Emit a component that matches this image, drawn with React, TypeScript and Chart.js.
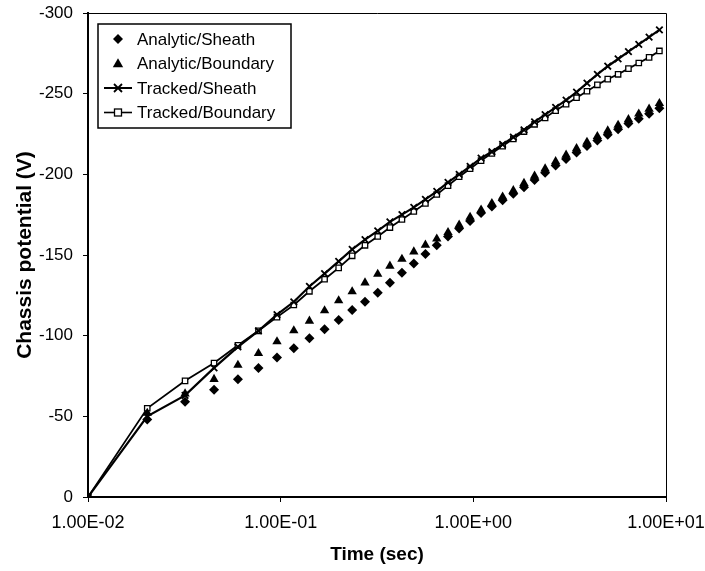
import React, { useEffect, useRef } from "react";
import { Chart, registerables } from "chart.js";

Chart.register(...registerables);

// Time points (sec)
const times = [
  0.01, 0.0203, 0.0319, 0.0451, 0.06, 0.0767, 0.0957, 0.117, 0.141, 0.169,
  0.2, 0.235, 0.274, 0.319, 0.369, 0.426, 0.491, 0.564, 0.646, 0.739,
  0.844, 0.962, 1.097, 1.248, 1.419, 1.613, 1.832, 2.079, 2.358, 2.674,
  3.03, 3.433, 3.889, 4.403, 4.984, 5.641, 6.384, 7.223, 8.171, 9.242,
];

const analyticSheath = [
  0, -48, -59, -66.5, -73, -80, -86.5, -92.2, -98.4, -104,
  -109.7, -115.9, -121.1, -126.6, -132.8, -139, -144.8, -150.6, -156, -161.5,
  -166.5, -171, -176, -180, -184, -188, -192, -196.5, -201, -205.5,
  -209.5, -213.5, -217.5, -221, -224.5, -228, -231.5, -234.5, -237.5, -241,
];

const analyticBoundary = [
  0, -52, -64, -73, -81.8, -89, -96.3, -103.1, -109.1, -115.5,
  -121.7, -127.3, -132.8, -138.2, -143.2, -147.5, -152, -156.2, -160, -164,
  -168.6, -173.5, -178, -182, -186, -190, -194.5, -199, -203.5, -208,
  -212, -216, -220, -223.5, -227, -230.5, -234, -237.5, -240.5, -244,
];

const trackedSheath = [
  0, -50, -63, -80, -93, -103, -113, -121, -130.5, -138.5,
  -146, -153.5, -159.5, -165, -170.5, -175, -179.5, -184.5, -189.5, -195,
  -200, -205, -210, -214, -218.5, -223, -227.5, -232.5, -237, -241.5,
  -246, -251, -256.5, -262, -267, -271.5, -276, -280.5, -285, -289.5,
];

const trackedBoundary = [
  0, -55, -72, -83, -94, -103, -111.5, -119, -127.5, -135,
  -142, -149.5, -156, -161.5, -167, -172, -177, -182, -187.5, -193,
  -198.5, -203.5, -208.5, -213, -217.5, -222, -226.5, -231, -235, -239.5,
  -243.5, -247.5, -251.5, -255.5, -259, -262, -265.5, -269, -272.5, -276.5,
];

const seriesLabels = [
  "Analytic/Sheath",
  "Analytic/Boundary",
  "Tracked/Sheath",
  "Tracked/Boundary",
];

const xTickValues = [0.01, 0.1, 1, 10];
const yMin = -300;
const yMax = 0;
const yStep = 50;

const FONT = "'Liberation Sans', Arial, Helvetica, sans-serif";

function fmtExp(v: number): string {
  const s = v.toExponential(2); // e.g. 1.00e-2
  const [m, e] = s.split("e");
  const n = parseInt(e, 10);
  const sign = n < 0 ? "-" : "+";
  const a = Math.abs(n);
  return m + "E" + sign + (a < 10 ? "0" : "") + a;
}

function pts(ys: number[]) {
  return times.map((t, i) => ({ x: t, y: ys[i] }));
}

function zeroPad(scale: any) {
  scale.paddingLeft = 0;
  scale.paddingRight = 0;
  scale.paddingTop = 0;
  scale.paddingBottom = 0;
}

function drawMarker(ctx: CanvasRenderingContext2D, kind: string, x: number, y: number) {
  ctx.save();
  ctx.strokeStyle = "#000";
  ctx.fillStyle = "#000";
  if (kind === "diamond") {
    const r = 5;
    ctx.beginPath();
    ctx.moveTo(x, y - r);
    ctx.lineTo(x + r, y);
    ctx.lineTo(x, y + r);
    ctx.lineTo(x - r, y);
    ctx.closePath();
    ctx.fill();
  } else if (kind === "triangle") {
    const r = 5.2;
    ctx.beginPath();
    ctx.moveTo(x, y - r);
    ctx.lineTo(x + r, y + r * 0.7);
    ctx.lineTo(x - r, y + r * 0.7);
    ctx.closePath();
    ctx.fill();
  } else if (kind === "cross") {
    ctx.lineWidth = 2;
    ctx.beginPath();
    ctx.moveTo(x - 14, y);
    ctx.lineTo(x + 14, y);
    ctx.stroke();
    ctx.lineWidth = 1.8;
    const r = 4;
    ctx.beginPath();
    ctx.moveTo(x - r, y - r);
    ctx.lineTo(x + r, y + r);
    ctx.moveTo(x + r, y - r);
    ctx.lineTo(x - r, y + r);
    ctx.stroke();
  } else if (kind === "square") {
    ctx.lineWidth = 1.6;
    ctx.beginPath();
    ctx.moveTo(x - 14, y);
    ctx.lineTo(x + 14, y);
    ctx.stroke();
    ctx.fillStyle = "#fff";
    ctx.fillRect(x - 3.5, y - 3.5, 7, 7);
    ctx.lineWidth = 1.3;
    ctx.strokeRect(x - 3.5, y - 3.5, 7, 7);
  }
  ctx.restore();
}

const legendKinds = ["diamond", "triangle", "cross", "square"];

const framePlugin = {
  id: "frameAndLegend",
  beforeDatasetsDraw(chart: any) {
    const { ctx, chartArea: a } = chart;
    ctx.save();
    ctx.strokeStyle = "#000";
    ctx.lineWidth = 1;
    ctx.beginPath();
    ctx.moveTo(a.left, a.top + 0.5);
    ctx.lineTo(a.right + 0.5, a.top + 0.5);
    ctx.lineTo(a.right + 0.5, a.bottom);
    ctx.stroke();
    ctx.restore();
  },
  afterDatasetsDraw(chart: any) {
    const { ctx, chartArea: a } = chart;
    const bx = a.left + 10;
    const by = a.top + 11;
    const bw = 193;
    const bh = 104;
    ctx.save();
    ctx.fillStyle = "#fff";
    ctx.fillRect(bx, by, bw, bh);
    ctx.strokeStyle = "#000";
    ctx.lineWidth = 1.5;
    ctx.strokeRect(bx, by, bw, bh);
    ctx.font = "17px " + FONT;
    ctx.textBaseline = "middle";
    ctx.textAlign = "left";
    ctx.fillStyle = "#000";
    for (let i = 0; i < seriesLabels.length; i++) {
      const cy = by + 15 + i * 24.5;
      drawMarker(ctx, legendKinds[i], bx + 20, cy);
      ctx.fillStyle = "#000";
      ctx.fillText(seriesLabels[i], bx + 39, cy + 1);
    }
    ctx.restore();
  },
};

export default function App() {
  const ref = useRef<HTMLCanvasElement | null>(null);

  useEffect(() => {
    document.body.style.margin = "0";
    const canvas = ref.current;
    if (!canvas) return;
    const chart = new Chart(canvas, {
      type: "scatter",
      data: {
        datasets: [
          {
            label: seriesLabels[0],
            data: pts(analyticSheath),
            showLine: false,
            pointStyle: "rectRot",
            pointRadius: 5,
            backgroundColor: "#000",
            borderColor: "#000",
            borderWidth: 0,
          },
          {
            label: seriesLabels[1],
            data: pts(analyticBoundary),
            showLine: false,
            pointStyle: "triangle",
            pointRadius: 5.4,
            backgroundColor: "#000",
            borderColor: "#000",
            borderWidth: 0,
          },
          {
            label: seriesLabels[2],
            data: pts(trackedSheath),
            showLine: true,
            borderColor: "#000",
            borderWidth: 2.2,
            pointStyle: "crossRot",
            pointRadius: 4.6,
            pointBorderWidth: 1.8,
            pointBorderColor: "#000",
            backgroundColor: "#000",
          },
          {
            label: seriesLabels[3],
            data: pts(trackedBoundary),
            showLine: true,
            borderColor: "#000",
            borderWidth: 1.8,
            pointStyle: "rect",
            pointRadius: 3.8,
            pointBorderWidth: 1.3,
            pointBorderColor: "#000",
            pointBackgroundColor: "#fff",
          },
        ],
      },
      options: {
        animation: false,
        responsive: false,
        maintainAspectRatio: false,
        layout: { autoPadding: false, padding: { top: 13, right: 39, left: 0, bottom: 0 } },
        plugins: {
          legend: { display: false },
          tooltip: { enabled: false },
        },
        scales: {
          x: {
            type: "logarithmic",
            min: 0.01,
            max: 10,
            afterBuildTicks: (scale: any) => {
              scale.ticks = xTickValues.map((v) => ({ value: v }));
            },
            afterFit: (scale: any) => {
              scale.height = 74;
              zeroPad(scale);
            },
            ticks: {
              callback: (v: any) => fmtExp(Number(v)),
              font: { family: FONT, size: 18 },
              color: "#000",
              padding: 10,
              maxRotation: 0,
              autoSkip: false,
            },
            grid: {
              display: true,
              drawOnChartArea: false,
              drawTicks: true,
              tickLength: 5,
              color: "#000",
              lineWidth: 1,
            },
            border: { display: true, color: "#000", width: 2 },
            title: {
              display: true,
              text: "Time (sec)",
              font: { family: FONT, size: 19, weight: "bold" },
              color: "#000",
              padding: { top: 0, bottom: 5 },
            },
          },
          y: {
            type: "linear",
            min: yMin,
            max: yMax,
            reverse: true,
            afterFit: (scale: any) => {
              scale.width = 88;
              zeroPad(scale);
            },
            ticks: {
              stepSize: yStep,
              font: { family: FONT, size: 17 },
              color: "#000",
              padding: 10,
            },
            grid: {
              display: true,
              drawOnChartArea: false,
              drawTicks: true,
              tickLength: 5,
              color: "#000",
              lineWidth: 1,
            },
            border: { display: true, color: "#000", width: 2 },
            title: {
              display: true,
              text: "Chassis potential (V)",
              font: { family: FONT, size: 21, weight: "bold" },
              color: "#000",
              padding: { top: 13, bottom: 0 },
            },
          },
        },
      },
      plugins: [framePlugin],
    } as any);
    return () => chart.destroy();
  }, []);

  return (
    <div style={{ width: 705, height: 571, background: "#fff" }}>
      <canvas ref={ref} width={705} height={571} style={{ display: "block" }} />
    </div>
  );
}
